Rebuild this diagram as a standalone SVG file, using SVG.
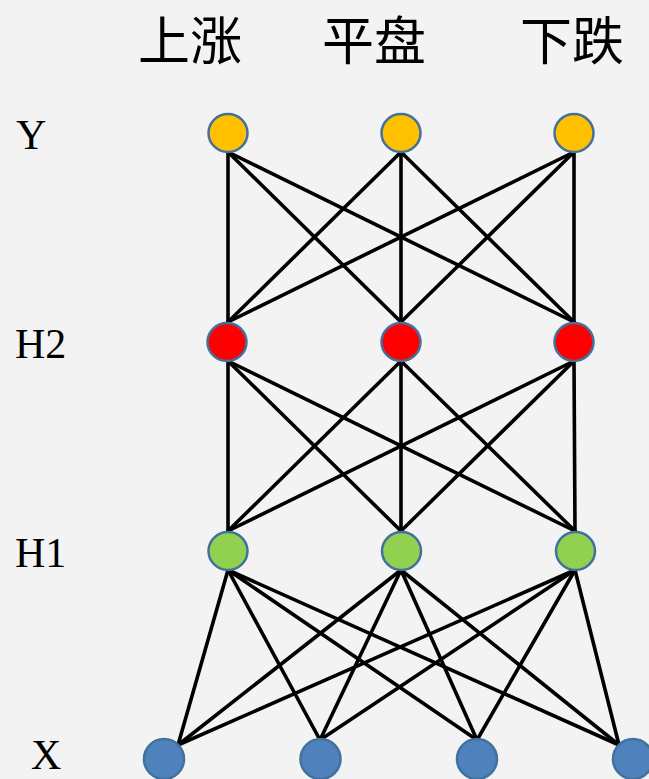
<svg xmlns="http://www.w3.org/2000/svg" width="649" height="779" viewBox="0 0 649 779">
<style>
.bg{fill:#F3F3F3}
.edge{stroke:#000;stroke-width:3.6;fill:none;stroke-linecap:round}
.node{stroke:#41719C;stroke-width:2.5}
.y{fill:#FFC000}
.h2{fill:#FF0000}
.h1{fill:#92D050}
.x{fill:#4F81BD}
.lbl{font-family:"Liberation Serif","Times New Roman",serif;font-size:42px;fill:#000}
.cn{font-family:"Noto Sans CJK SC","Noto Sans",sans-serif;font-size:52px;fill:#000;text-anchor:middle}
</style>
<rect class="bg" x="0" y="0" width="649" height="779"/>
<g id="titles">
<text class="cn" x="190" y="60">上涨</text>
<text class="cn" x="374" y="60">平盘</text>
<text class="cn" x="572" y="60">下跌</text>
</g>
<g id="layer-labels">
<text class="lbl" x="16" y="149">Y</text>
<text class="lbl" x="15" y="358">H2</text>
<text class="lbl" x="15" y="567">H1</text>
<text class="lbl" x="31" y="769">X</text>
</g>
<g id="connectors">
<line class="edge" x1="228" y1="152" x2="228" y2="322"/>
<line class="edge" x1="228" y1="152" x2="401" y2="322"/>
<line class="edge" x1="228" y1="152" x2="574" y2="322"/>
<line class="edge" x1="401" y1="152" x2="228" y2="322"/>
<line class="edge" x1="401" y1="152" x2="401" y2="322"/>
<line class="edge" x1="401" y1="152" x2="574" y2="322"/>
<line class="edge" x1="574" y1="152" x2="228" y2="322"/>
<line class="edge" x1="574" y1="152" x2="401" y2="322"/>
<line class="edge" x1="574" y1="152" x2="574" y2="322"/>
<line class="edge" x1="228" y1="361" x2="228" y2="531"/>
<line class="edge" x1="228" y1="361" x2="401" y2="531"/>
<line class="edge" x1="228" y1="361" x2="575" y2="531"/>
<line class="edge" x1="401" y1="361" x2="228" y2="531"/>
<line class="edge" x1="401" y1="361" x2="401" y2="531"/>
<line class="edge" x1="401" y1="361" x2="575" y2="531"/>
<line class="edge" x1="574" y1="361" x2="228" y2="531"/>
<line class="edge" x1="574" y1="361" x2="401" y2="531"/>
<line class="edge" x1="574" y1="361" x2="575" y2="531"/>
<line class="edge" x1="228" y1="570" x2="178" y2="745"/>
<line class="edge" x1="228" y1="570" x2="320" y2="740"/>
<line class="edge" x1="228" y1="570" x2="477" y2="740"/>
<line class="edge" x1="228" y1="570" x2="619" y2="745"/>
<line class="edge" x1="401" y1="570" x2="178" y2="745"/>
<line class="edge" x1="401" y1="570" x2="320" y2="740"/>
<line class="edge" x1="401" y1="570" x2="477" y2="740"/>
<line class="edge" x1="401" y1="570" x2="619" y2="745"/>
<line class="edge" x1="575" y1="570" x2="178" y2="745"/>
<line class="edge" x1="575" y1="570" x2="320" y2="740"/>
<line class="edge" x1="575" y1="570" x2="477" y2="740"/>
<line class="edge" x1="575" y1="570" x2="619" y2="745"/>
</g>
<g id="y1"><ellipse class="node y" cx="228" cy="133" rx="19.5" ry="19"/></g>
<g id="y2"><ellipse class="node y" cx="401" cy="133" rx="19.5" ry="19"/></g>
<g id="y3"><ellipse class="node y" cx="574" cy="133" rx="19.5" ry="19"/></g>
<g id="h2-1"><ellipse class="node h2" cx="227" cy="342" rx="19.5" ry="19"/></g>
<g id="h2-2"><ellipse class="node h2" cx="401" cy="342" rx="19.5" ry="19"/></g>
<g id="h2-3"><ellipse class="node h2" cx="574" cy="342" rx="19.5" ry="19"/></g>
<g id="h1-1"><ellipse class="node h1" cx="228" cy="551" rx="19.5" ry="19"/></g>
<g id="h1-2"><ellipse class="node h1" cx="401.5" cy="551" rx="19.5" ry="19"/></g>
<g id="h1-3"><ellipse class="node h1" cx="575.5" cy="551" rx="19.5" ry="19"/></g>
<g id="x1"><circle class="node x" cx="164" cy="759" r="20"/></g>
<g id="x2"><circle class="node x" cx="320.5" cy="759" r="20"/></g>
<g id="x3"><circle class="node x" cx="477" cy="759" r="20"/></g>
<g id="x4"><circle class="node x" cx="633" cy="759" r="20"/></g>
</svg>
